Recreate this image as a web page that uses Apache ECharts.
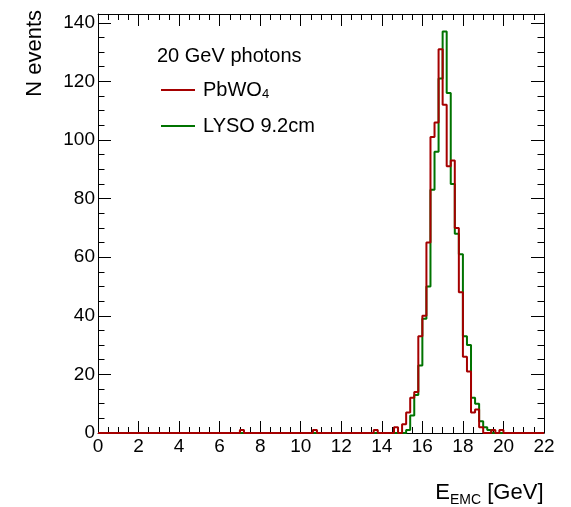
<!DOCTYPE html>
<html>
<head>
<meta charset="utf-8">
<script src="https://cdn.jsdelivr.net/npm/echarts@6/dist/echarts.min.js"></script>
<style>
html,body{margin:0;padding:0;background:#fff;}
#c{width:571px;height:507px;}
</style>
</head>
<body>
<div id="c"></div>
<script>
// ---------- data ----------
const binWidth = 0.2;
const xMin = 0;
const xMax = 22;
const yMax = 143;

// lower edges of the bins around the peak
const peakBinLow = [14.6,14.8,15.0,15.2,15.4,15.6,15.8,16.0,16.2,16.4,16.6,16.8,17.0,17.2,17.4,17.6,17.8,18.0,18.2,18.4,18.6,18.8,19.0,19.2,19.4,19.6,19.8];
const pbwoPeak   = [2,0,3,7,12,14,33,40,65,101,106,131,112,91,93,70,48,26,21,7,8,2,0,0,1,0,1];
const lysoPeak   = [0,0,0,1,6,13,23,39,50,83,96,121,137,116,85,68,61,33,30,12,10,4,2,1,0,0,0];

// isolated low-energy entries
const pbwoTailBinLow = [7.0,10.6,13.6];
const pbwoTail       = [1,1,1];
const lysoTailBinLow = [];
const lysoTail       = [];

const seriesNames = ['PbWO4','LYSO 9.2cm'];
const xTickLabels = [0,2,4,6,8,10,12,14,16,18,20,22];
const yTickLabels = [0,20,40,60,80,100,120,140];
const yMinorTicks = [5,10,15,25,30,35,45,50,55,65,70,75,85,90,95,105,110,115,125,130,135];

// ---------- build step histograms ----------
function buildHist(lows, counts, tailLows, tailCounts){
  const n = Math.round((xMax - xMin) / binWidth);
  const c = new Array(n).fill(0);
  lows.forEach((x,i)=>{ c[Math.round((x - xMin)/binWidth)] = counts[i]; });
  tailLows.forEach((x,i)=>{ c[Math.round((x - xMin)/binWidth)] = tailCounts[i]; });
  const d = c.map((v,i)=>[+(xMin + i*binWidth).toFixed(3), v]);
  d.push([xMax, c[n-1]]);
  return d;
}
const pbwoData = buildHist(peakBinLow, pbwoPeak, pbwoTailBinLow, pbwoTail);
const lysoData = buildHist(peakBinLow, lysoPeak, lysoTailBinLow, lysoTail);

// ---------- chart ----------
const FONT = "'Liberation Sans', Arial, Helvetica, sans-serif";
const RED = '#a50000';
const GREEN = '#007300';
const black = {color:'#000', width:1};

function xAx(pos, labels){
  return {
    type:'value', min:xMin, max:xMax, interval:2, position:pos,
    axisLine:{show:true, onZero:false, lineStyle:black},
    axisTick:{show:true, inside:true, length:12, lineStyle:black},
    minorTick:{show:true, splitNumber:4, length:6, lineStyle:black},
    splitLine:{show:false}, minorSplitLine:{show:false},
    axisLabel: labels ? {show:true, fontSize:19, color:'#000', margin:4, fontFamily:FONT,
                         customValues:xTickLabels} : {show:false}
  };
}
function yAx(pos, ticks, len, labels, line){
  return {
    type:'value', min:0, max:yMax, position:pos,
    axisLine:{show:line, onZero:false, lineStyle:black},
    axisTick:{show:true, inside:true, length:len, lineStyle:black, customValues:ticks},
    splitLine:{show:false},
    axisLabel: labels ? {show:true, fontSize:19, color:'#000', margin:3, fontFamily:FONT,
                         customValues:ticks} : {show:false}
  };
}

const chart = echarts.init(document.getElementById('c'), null, {renderer:'canvas'});
chart.setOption({
  animation:false,
  backgroundColor:'#fff',
  grid:{left:98, right:27, top:14, bottom:74, containLabel:false},
  title:{
    text:'20 GeV photons', left:157, top:45, padding:0,
    textStyle:{fontSize:20, fontWeight:'normal', color:'#000', fontFamily:FONT, lineHeight:22}
  },
  legend:{
    orient:'vertical', left:161, top:80, padding:0,
    itemWidth:34, itemHeight:2, itemGap:15, icon:'rect',
    selectedMode:false,
    data:[seriesNames[0], seriesNames[1]],
    formatter: n => n === 'PbWO4' ? '{m|PbWO}{s|4}' : '{m|' + n + '}',
    textStyle:{
      fontSize:20, color:'#000', fontFamily:FONT, padding:[0,0,0,3],
      rich:{
        m:{fontSize:20, lineHeight:22, fontFamily:FONT, color:'#000'},
        s:{fontSize:13, lineHeight:13, fontFamily:FONT, color:'#000', verticalAlign:'bottom', padding:[0,0,0,0]}
      }
    }
  },
  xAxis:[ xAx('bottom', true), xAx('top', false) ],
  yAxis:[
    yAx('left', yTickLabels, 13, true, true),
    yAx('left', yMinorTicks, 6.5, false, false),
    yAx('right', yTickLabels, 13, false, true),
    yAx('right', yMinorTicks, 6.5, false, false)
  ],
  graphic:[
    {
      type:'text', x:543.5, y:483,
      style:{
        text:'{m|E}{s|EMC}{m| [GeV]}', align:'right', verticalAlign:'top', fill:'#000',
        rich:{
          m:{fontSize:22, lineHeight:24, padding:[0,0,5,0], fontFamily:FONT, fill:'#000'},
          s:{fontSize:14, lineHeight:14, verticalAlign:'bottom', fontFamily:FONT, fill:'#000'}
        }
      }
    },
    {
      type:'text', x:35, y:10, rotation:Math.PI/2,
      style:{text:'N events', fontSize:22, fontFamily:FONT, align:'right', verticalAlign:'middle', fill:'#000'}
    }
  ],
  series:[
    {
      name:seriesNames[1], type:'line', step:'end', data:lysoData,
      xAxisIndex:0, yAxisIndex:0, showSymbol:false, symbol:'none',
      lineStyle:{color:GREEN, width:2}, itemStyle:{color:GREEN}, z:2
    },
    {
      name:seriesNames[0], type:'line', step:'end', data:pbwoData,
      xAxisIndex:0, yAxisIndex:0, showSymbol:false, symbol:'none',
      lineStyle:{color:RED, width:2}, itemStyle:{color:RED}, z:3
    }
  ]
});
</script>
</body>
</html>
